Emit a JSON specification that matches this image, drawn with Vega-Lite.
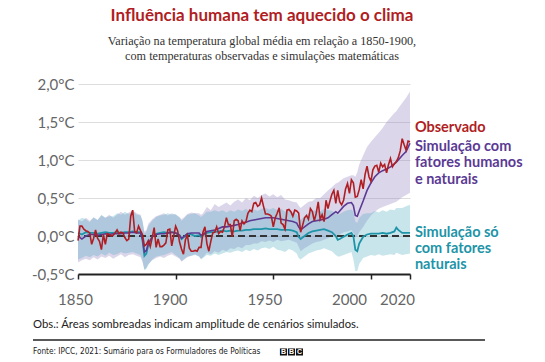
{
  "$schema": "https://vega.github.io/schema/vega-lite/v6.json",
  "width": 332,
  "height": 190,
  "autosize": {"type": "none"},
  "padding": {"left": 78, "top": 84, "right": 135, "bottom": 88},
  "background": "#ffffff",
  "config": {"view": {"stroke": null}, "axisY": {"labelOverlap": false}, "axis": {"labelOverlap": false}},
  "data": {"values": [{}]},
  "title": {
    "text": "Influência humana tem aquecido o clima",
    "subtitle": ["Variação na temperatura global média em relação a 1850-1900,", "com temperaturas observadas e simulações matemáticas"],
    "anchor": "middle",
    "frame": "group",
    "dx": 18,
    "offset": 14,
    "font": "Lato",
    "fontSize": 17,
    "fontWeight": "bold",
    "color": "#b01e23",
    "subtitleFont": "Liberation Serif",
    "subtitleFontSize": 12.2,
    "subtitleColor": "#333333",
    "subtitleLineHeight": 14.5,
    "subtitlePadding": 10
  },
  "datasets": {
    "obs": [
      {"year":1850,"t":-0.06},{"year":1851,"t":0.13},{"year":1852,"t":0.13},{"year":1853,"t":0.09},{"year":1854,"t":0.07},{"year":1855,"t":0.06},{"year":1856,"t":0.04},{"year":1857,"t":-0.11},{"year":1858,"t":-0.03},{"year":1859,"t":0.08},
      {"year":1860,"t":-0.03},{"year":1861,"t":-0.07},{"year":1862,"t":-0.18},{"year":1863,"t":0.02},{"year":1864,"t":-0.11},{"year":1865,"t":0.03},{"year":1866,"t":0.02},{"year":1867,"t":0.0},{"year":1868,"t":0.01},{"year":1869,"t":0.04},
      {"year":1870,"t":0.08},{"year":1871,"t":0.03},{"year":1872,"t":0.05},{"year":1873,"t":0.04},{"year":1874,"t":-0.02},{"year":1875,"t":-0.06},{"year":1876,"t":-0.04},{"year":1877,"t":0.26},{"year":1878,"t":0.34},{"year":1879,"t":0.06},
      {"year":1880,"t":0.04},{"year":1881,"t":0.13},{"year":1882,"t":0.07},{"year":1883,"t":0.02},{"year":1884,"t":-0.13},{"year":1885,"t":-0.11},{"year":1886,"t":-0.06},{"year":1887,"t":-0.14},{"year":1888,"t":-0.02},{"year":1889,"t":0.11},
      {"year":1890,"t":-0.15},{"year":1891,"t":-0.04},{"year":1892,"t":-0.14},{"year":1893,"t":-0.14},{"year":1894,"t":-0.12},{"year":1895,"t":-0.09},{"year":1896,"t":0.08},{"year":1897,"t":0.09},{"year":1898,"t":-0.13},{"year":1899,"t":0.0},
      {"year":1900,"t":0.13},{"year":1901,"t":0.07},{"year":1902,"t":-0.08},{"year":1903,"t":-0.17},{"year":1904,"t":-0.24},{"year":1905,"t":-0.05},{"year":1906,"t":0.01},{"year":1907,"t":-0.16},{"year":1908,"t":-0.2},{"year":1909,"t":-0.2},
      {"year":1910,"t":-0.19},{"year":1911,"t":-0.2},{"year":1912,"t":-0.15},{"year":1913,"t":-0.15},{"year":1914,"t":0.05},{"year":1915,"t":0.12},{"year":1916,"t":-0.1},{"year":1917,"t":-0.2},{"year":1918,"t":-0.07},{"year":1919,"t":0.04},
      {"year":1920,"t":0.05},{"year":1921,"t":0.12},{"year":1922,"t":0.03},{"year":1923,"t":0.06},{"year":1924,"t":0.05},{"year":1925,"t":0.12},{"year":1926,"t":0.24},{"year":1927,"t":0.15},{"year":1928,"t":0.15},{"year":1929,"t":-0.01},
      {"year":1930,"t":0.2},{"year":1931,"t":0.22},{"year":1932,"t":0.2},{"year":1933,"t":0.07},{"year":1934,"t":0.2},{"year":1935,"t":0.16},{"year":1936,"t":0.19},{"year":1937,"t":0.3},{"year":1938,"t":0.34},{"year":1939,"t":0.32},
      {"year":1940,"t":0.43},{"year":1941,"t":0.44},{"year":1942,"t":0.39},{"year":1943,"t":0.41},{"year":1944,"t":0.5},{"year":1945,"t":0.39},{"year":1946,"t":0.29},{"year":1947,"t":0.29},{"year":1948,"t":0.28},{"year":1949,"t":0.26},
      {"year":1950,"t":0.12},{"year":1951,"t":0.24},{"year":1952,"t":0.3},{"year":1953,"t":0.37},{"year":1954,"t":0.17},{"year":1955,"t":0.15},{"year":1956,"t":0.09},{"year":1957,"t":0.34},{"year":1958,"t":0.35},{"year":1959,"t":0.32},
      {"year":1960,"t":0.26},{"year":1961,"t":0.34},{"year":1962,"t":0.33},{"year":1963,"t":0.3},{"year":1964,"t":0.05},{"year":1965,"t":0.14},{"year":1966,"t":0.24},{"year":1967,"t":0.27},{"year":1968,"t":0.22},{"year":1969,"t":0.36},
      {"year":1970,"t":0.32},{"year":1971,"t":0.2},{"year":1972,"t":0.3},{"year":1973,"t":0.45},{"year":1974,"t":0.22},{"year":1975,"t":0.28},{"year":1976,"t":0.19},{"year":1977,"t":0.47},{"year":1978,"t":0.36},{"year":1979,"t":0.46},
      {"year":1980,"t":0.55},{"year":1981,"t":0.6},{"year":1982,"t":0.43},{"year":1983,"t":0.6},{"year":1984,"t":0.45},{"year":1985,"t":0.41},{"year":1986,"t":0.47},{"year":1987,"t":0.62},{"year":1988,"t":0.69},{"year":1989,"t":0.56},
      {"year":1990,"t":0.74},{"year":1991,"t":0.7},{"year":1992,"t":0.51},{"year":1993,"t":0.52},{"year":1994,"t":0.61},{"year":1995,"t":0.74},{"year":1996,"t":0.62},{"year":1997,"t":0.81},{"year":1998,"t":0.92},{"year":1999,"t":0.78},
      {"year":2000,"t":0.72},{"year":2001,"t":0.87},{"year":2002,"t":0.92},{"year":2003,"t":0.93},{"year":2004,"t":0.84},{"year":2005,"t":0.96},{"year":2006,"t":0.91},{"year":2007,"t":0.94},{"year":2008,"t":0.83},{"year":2009,"t":0.94},
      {"year":2010,"t":1.02},{"year":2011,"t":0.91},{"year":2012,"t":0.95},{"year":2013,"t":0.98},{"year":2014,"t":1.03},{"year":2015,"t":1.12},{"year":2016,"t":1.28},{"year":2017,"t":1.2},{"year":2018,"t":1.13},{"year":2019,"t":1.25},
      {"year":2020,"t":1.24}
    ],
    "sim": [
      {"year":1850,"hn":0.0,"hnl":-0.35,"hnh":0.22,"n":0.04,"nl":-0.31,"nh":0.2},
      {"year":1852,"hn":-0.04,"hnl":-0.32,"hnh":0.19,"n":0.02,"nl":-0.29,"nh":0.24},
      {"year":1854,"hn":0.0,"hnl":-0.3,"hnh":0.24,"n":0.05,"nl":-0.26,"nh":0.22},
      {"year":1856,"hn":0.02,"hnl":-0.32,"hnh":0.2,"n":0.04,"nl":-0.28,"nh":0.18},
      {"year":1858,"hn":0.02,"hnl":-0.28,"hnh":0.24,"n":0.04,"nl":-0.25,"nh":0.25},
      {"year":1860,"hn":0.01,"hnl":-0.31,"hnh":0.21,"n":0.03,"nl":-0.27,"nh":0.21},
      {"year":1862,"hn":0.02,"hnl":-0.27,"hnh":0.27,"n":0.04,"nl":-0.23,"nh":0.28},
      {"year":1864,"hn":0.03,"hnl":-0.29,"hnh":0.24,"n":0.05,"nl":-0.26,"nh":0.24},
      {"year":1866,"hn":0.02,"hnl":-0.26,"hnh":0.28,"n":0.04,"nl":-0.22,"nh":0.26},
      {"year":1868,"hn":0.03,"hnl":-0.3,"hnh":0.24,"n":0.04,"nl":-0.25,"nh":0.26},
      {"year":1870,"hn":0.03,"hnl":-0.27,"hnh":0.28,"n":0.05,"nl":-0.24,"nh":0.3},
      {"year":1872,"hn":0.03,"hnl":-0.24,"hnh":0.32,"n":0.04,"nl":-0.21,"nh":0.28},
      {"year":1874,"hn":0.04,"hnl":-0.28,"hnh":0.28,"n":0.05,"nl":-0.23,"nh":0.32},
      {"year":1876,"hn":0.04,"hnl":-0.25,"hnh":0.31,"n":0.05,"nl":-0.22,"nh":0.29},
      {"year":1878,"hn":0.05,"hnl":-0.24,"hnh":0.34,"n":0.06,"nl":-0.21,"nh":0.33},
      {"year":1880,"hn":0.04,"hnl":-0.26,"hnh":0.3,"n":0.05,"nl":-0.23,"nh":0.28},
      {"year":1882,"hn":0.04,"hnl":-0.28,"hnh":0.28,"n":0.05,"nl":-0.25,"nh":0.27},
      {"year":1883,"hn":-0.04,"hnl":-0.34,"hnh":0.2,"n":-0.05,"nl":-0.32,"nh":0.2},
      {"year":1884,"hn":-0.21,"hnl":-0.44,"hnh":0.06,"n":-0.26,"nl":-0.45,"nh":0.03},
      {"year":1885,"hn":-0.19,"hnl":-0.42,"hnh":0.08,"n":-0.23,"nl":-0.43,"nh":0.06},
      {"year":1886,"hn":-0.1,"hnl":-0.37,"hnh":0.16,"n":-0.12,"nl":-0.38,"nh":0.13},
      {"year":1888,"hn":-0.01,"hnl":-0.32,"hnh":0.22,"n":-0.01,"nl":-0.31,"nh":0.2},
      {"year":1890,"hn":0.02,"hnl":-0.29,"hnh":0.26,"n":0.03,"nl":-0.27,"nh":0.25},
      {"year":1892,"hn":0.03,"hnl":-0.27,"hnh":0.28,"n":0.04,"nl":-0.26,"nh":0.27},
      {"year":1894,"hn":0.03,"hnl":-0.29,"hnh":0.3,"n":0.05,"nl":-0.25,"nh":0.28},
      {"year":1896,"hn":0.04,"hnl":-0.26,"hnh":0.27,"n":0.04,"nl":-0.23,"nh":0.3},
      {"year":1898,"hn":0.05,"hnl":-0.24,"hnh":0.3,"n":0.05,"nl":-0.21,"nh":0.28},
      {"year":1900,"hn":0.04,"hnl":-0.27,"hnh":0.28,"n":0.04,"nl":-0.25,"nh":0.29},
      {"year":1902,"hn":0.01,"hnl":-0.3,"hnh":0.25,"n":0.01,"nl":-0.29,"nh":0.24},
      {"year":1903,"hn":-0.03,"hnl":-0.34,"hnh":0.22,"n":-0.04,"nl":-0.33,"nh":0.2},
      {"year":1904,"hn":-0.01,"hnl":-0.32,"hnh":0.24,"n":-0.02,"nl":-0.31,"nh":0.22},
      {"year":1906,"hn":0.03,"hnl":-0.28,"hnh":0.29,"n":0.03,"nl":-0.27,"nh":0.28},
      {"year":1908,"hn":0.04,"hnl":-0.26,"hnh":0.31,"n":0.02,"nl":-0.26,"nh":0.29},
      {"year":1910,"hn":0.04,"hnl":-0.24,"hnh":0.3,"n":0.0,"nl":-0.25,"nh":0.3},
      {"year":1912,"hn":0.04,"hnl":-0.27,"hnh":0.3,"n":0.01,"nl":-0.27,"nh":0.27},
      {"year":1913,"hn":0.01,"hnl":-0.3,"hnh":0.28,"n":-0.01,"nl":-0.31,"nh":0.25},
      {"year":1914,"hn":0.02,"hnl":-0.28,"hnh":0.3,"n":0.01,"nl":-0.29,"nh":0.27},
      {"year":1916,"hn":0.06,"hnl":-0.22,"hnh":0.38,"n":0.04,"nl":-0.25,"nh":0.32},
      {"year":1918,"hn":0.07,"hnl":-0.24,"hnh":0.34,"n":0.05,"nl":-0.26,"nh":0.32},
      {"year":1920,"hn":0.08,"hnl":-0.2,"hnh":0.42,"n":0.05,"nl":-0.23,"nh":0.34},
      {"year":1922,"hn":0.1,"hnl":-0.22,"hnh":0.38,"n":0.06,"nl":-0.25,"nh":0.32},
      {"year":1924,"hn":0.12,"hnl":-0.18,"hnh":0.41,"n":0.07,"nl":-0.23,"nh":0.34},
      {"year":1926,"hn":0.12,"hnl":-0.2,"hnh":0.44,"n":0.06,"nl":-0.21,"nh":0.31},
      {"year":1928,"hn":0.13,"hnl":-0.16,"hnh":0.4,"n":0.07,"nl":-0.22,"nh":0.34},
      {"year":1930,"hn":0.14,"hnl":-0.17,"hnh":0.45,"n":0.06,"nl":-0.2,"nh":0.32},
      {"year":1932,"hn":0.15,"hnl":-0.14,"hnh":0.48,"n":0.07,"nl":-0.19,"nh":0.35},
      {"year":1934,"hn":0.17,"hnl":-0.16,"hnh":0.44,"n":0.07,"nl":-0.21,"nh":0.33},
      {"year":1936,"hn":0.18,"hnl":-0.12,"hnh":0.5,"n":0.08,"nl":-0.18,"nh":0.36},
      {"year":1938,"hn":0.2,"hnl":-0.12,"hnh":0.47,"n":0.08,"nl":-0.2,"nh":0.32},
      {"year":1940,"hn":0.21,"hnl":-0.1,"hnh":0.53,"n":0.09,"nl":-0.17,"nh":0.35},
      {"year":1942,"hn":0.22,"hnl":-0.1,"hnh":0.5,"n":0.09,"nl":-0.19,"nh":0.33},
      {"year":1944,"hn":0.23,"hnl":-0.07,"hnh":0.54,"n":0.09,"nl":-0.16,"nh":0.36},
      {"year":1946,"hn":0.24,"hnl":-0.08,"hnh":0.56,"n":0.1,"nl":-0.15,"nh":0.37},
      {"year":1948,"hn":0.24,"hnl":-0.06,"hnh":0.52,"n":0.09,"nl":-0.17,"nh":0.35},
      {"year":1950,"hn":0.24,"hnl":-0.08,"hnh":0.55,"n":0.09,"nl":-0.14,"nh":0.37},
      {"year":1952,"hn":0.23,"hnl":-0.05,"hnh":0.51,"n":0.09,"nl":-0.18,"nh":0.34},
      {"year":1954,"hn":0.22,"hnl":-0.07,"hnh":0.54,"n":0.08,"nl":-0.19,"nh":0.36},
      {"year":1956,"hn":0.21,"hnl":-0.06,"hnh":0.48,"n":0.08,"nl":-0.21,"nh":0.32},
      {"year":1958,"hn":0.2,"hnl":-0.05,"hnh":0.47,"n":0.08,"nl":-0.17,"nh":0.35},
      {"year":1960,"hn":0.19,"hnl":-0.07,"hnh":0.45,"n":0.07,"nl":-0.19,"nh":0.31},
      {"year":1962,"hn":0.17,"hnl":-0.09,"hnh":0.44,"n":0.05,"nl":-0.23,"nh":0.29},
      {"year":1963,"hn":0.12,"hnl":-0.14,"hnh":0.4,"n":-0.01,"nl":-0.29,"nh":0.24},
      {"year":1964,"hn":0.08,"hnl":-0.2,"hnh":0.37,"n":-0.04,"nl":-0.31,"nh":0.21},
      {"year":1966,"hn":0.12,"hnl":-0.16,"hnh":0.41,"n":0.0,"nl":-0.27,"nh":0.26},
      {"year":1968,"hn":0.16,"hnl":-0.13,"hnh":0.45,"n":0.04,"nl":-0.23,"nh":0.3},
      {"year":1970,"hn":0.19,"hnl":-0.1,"hnh":0.46,"n":0.06,"nl":-0.21,"nh":0.33},
      {"year":1972,"hn":0.2,"hnl":-0.08,"hnh":0.5,"n":0.07,"nl":-0.19,"nh":0.34},
      {"year":1974,"hn":0.21,"hnl":-0.07,"hnh":0.5,"n":0.08,"nl":-0.18,"nh":0.32},
      {"year":1976,"hn":0.22,"hnl":-0.05,"hnh":0.55,"n":0.09,"nl":-0.16,"nh":0.36},
      {"year":1978,"hn":0.24,"hnl":-0.03,"hnh":0.6,"n":0.07,"nl":-0.18,"nh":0.34},
      {"year":1980,"hn":0.28,"hnl":0.0,"hnh":0.64,"n":0.05,"nl":-0.2,"nh":0.33},
      {"year":1982,"hn":0.32,"hnl":0.02,"hnh":0.69,"n":0.0,"nl":-0.25,"nh":0.3},
      {"year":1983,"hn":0.3,"hnl":0.0,"hnh":0.7,"n":-0.05,"nl":-0.27,"nh":0.28},
      {"year":1984,"hn":0.33,"hnl":0.02,"hnh":0.72,"n":-0.04,"nl":-0.27,"nh":0.29},
      {"year":1986,"hn":0.39,"hnl":0.05,"hnh":0.76,"n":-0.01,"nl":-0.25,"nh":0.32},
      {"year":1988,"hn":0.43,"hnl":0.06,"hnh":0.78,"n":0.02,"nl":-0.23,"nh":0.34},
      {"year":1990,"hn":0.44,"hnl":0.08,"hnh":0.8,"n":0.04,"nl":-0.21,"nh":0.35},
      {"year":1991,"hn":0.4,"hnl":0.04,"hnh":0.8,"n":0.0,"nl":-0.31,"nh":0.32},
      {"year":1992,"hn":0.27,"hnl":-0.02,"hnh":0.78,"n":-0.18,"nl":-0.46,"nh":0.19},
      {"year":1993,"hn":0.26,"hnl":0.0,"hnh":0.84,"n":-0.2,"nl":-0.46,"nh":0.17},
      {"year":1994,"hn":0.33,"hnl":0.05,"hnh":0.94,"n":-0.1,"nl":-0.37,"nh":0.24},
      {"year":1996,"hn":0.46,"hnl":0.12,"hnh":1.06,"n":-0.01,"nl":-0.29,"nh":0.29},
      {"year":1998,"hn":0.6,"hnl":0.2,"hnh":1.17,"n":0.02,"nl":-0.27,"nh":0.3},
      {"year":2000,"hn":0.7,"hnl":0.27,"hnh":1.24,"n":0.03,"nl":-0.25,"nh":0.3},
      {"year":2002,"hn":0.78,"hnl":0.32,"hnh":1.3,"n":0.03,"nl":-0.26,"nh":0.33},
      {"year":2004,"hn":0.83,"hnl":0.36,"hnh":1.36,"n":0.03,"nl":-0.24,"nh":0.31},
      {"year":2006,"hn":0.86,"hnl":0.38,"hnh":1.42,"n":0.04,"nl":-0.26,"nh":0.34},
      {"year":2008,"hn":0.88,"hnl":0.4,"hnh":1.5,"n":0.03,"nl":-0.25,"nh":0.32},
      {"year":2010,"hn":0.91,"hnl":0.42,"hnh":1.56,"n":0.04,"nl":-0.24,"nh":0.35},
      {"year":2012,"hn":0.95,"hnl":0.44,"hnh":1.62,"n":0.06,"nl":-0.25,"nh":0.34},
      {"year":2013,"hn":0.97,"hnl":0.45,"hnh":1.64,"n":0.11,"nl":-0.22,"nh":0.37},
      {"year":2014,"hn":1.0,"hnl":0.47,"hnh":1.68,"n":0.08,"nl":-0.23,"nh":0.37},
      {"year":2016,"hn":1.06,"hnl":0.51,"hnh":1.75,"n":0.04,"nl":-0.25,"nh":0.37},
      {"year":2018,"hn":1.11,"hnl":0.54,"hnh":1.82,"n":0.04,"nl":-0.24,"nh":0.39},
      {"year":2020,"hn":1.22,"hnl":0.57,"hnh":1.9,"n":0.04,"nl":-0.23,"nh":0.41}
    ]
  },
  "layer": [
    {
      "data": {"name": "sim"},
      "mark": {"type": "area", "color": "#8f7fbf", "opacity": 0.32},
      "encoding": {
        "x": {
          "field": "year", "type": "quantitative",
          "scale": {"domain": [1850, 2020], "nice": false, "zero": false},
          "axis": {
            "values": [1850, 1900, 1950, 2000, 2020],
            "format": "d",
            "title": null,
            "grid": false,
            "domainColor": "#222222",
            "domainWidth": 2,
            "tickColor": "#222222",
            "tickWidth": 1.5,
            "tickSize": 5,
            "labelPadding": 13,
            "labelFont": "Lato",
            "labelFontSize": 15,
            "labelColor": "#666666",
            "labelFlush": false,
            "labelOverlap": false,
            "labelOffset": {"condition": [
              {"test": "datum.value == 1850", "value": -3},
              {"test": "datum.value == 1900", "value": -6},
              {"test": "datum.value == 1950", "value": -9},
              {"test": "datum.value == 2000", "value": -22}
            ], "value": -13}
          }
        },
        "y": {
          "field": "hnl", "type": "quantitative",
          "scale": {"domain": [-0.5, 2.0], "nice": false, "zero": false},
          "axis": {
            "tickCount": 5,
            "title": null,
            "domain": false,
            "ticks": false,
            "grid": true,
            "gridColor": "#dddddd",
            "gridWidth": 1,
            "labelPadding": 4,
            "labelFont": "Lato",
            "labelFontSize": 15,
            "labelColor": "#666666",
            "labelOverlap": false,
            "labelExpr": "(datum.value < 0 ? '-' : '') + replace(format(abs(datum.value), '.1f'), '.', ',') + '°C'"
          }
        },
        "y2": {"field": "hnh"}
      }
    },
    {
      "data": {"name": "sim"},
      "mark": {"type": "area", "color": "#4aa8c0", "opacity": 0.3},
      "encoding": {
        "x": {"field": "year", "type": "quantitative"},
        "y": {"field": "nl", "type": "quantitative"},
        "y2": {"field": "nh"}
      }
    },
    {
      "mark": {"type": "rule", "color": "#333333", "strokeWidth": 2, "strokeDash": [7, 4]},
      "encoding": {"y": {"datum": 0}}
    },
    {
      "data": {"name": "sim"},
      "mark": {"type": "line", "color": "#1e94a8", "strokeWidth": 1.8},
      "encoding": {
        "x": {"field": "year", "type": "quantitative"},
        "y": {"field": "n", "type": "quantitative"}
      }
    },
    {
      "data": {"name": "sim"},
      "mark": {"type": "line", "color": "#5b3a94", "strokeWidth": 1.6},
      "encoding": {
        "x": {"field": "year", "type": "quantitative"},
        "y": {"field": "hn", "type": "quantitative"}
      }
    },
    {
      "data": {"name": "obs"},
      "mark": {"type": "line", "color": "#b01e23", "strokeWidth": 1.6},
      "encoding": {
        "x": {"field": "year", "type": "quantitative"},
        "y": {"field": "t", "type": "quantitative"}
      }
    },
    {
      "mark": {"type": "text", "text": "Observado", "align": "left", "baseline": "middle", "font": "Lato", "fontSize": 14.5, "fontWeight": "bold", "color": "#b01e23"},
      "encoding": {"x": {"datum": 2022.5}, "y": {"datum": 1.425}}
    },
    {
      "mark": {"type": "text", "text": ["Simulação com", "fatores humanos", "e naturais"], "lineHeight": 16.5, "align": "left", "baseline": "middle", "font": "Lato", "fontSize": 14.5, "fontWeight": "bold", "color": "#5b3a94"},
      "encoding": {"x": {"datum": 2022.5}, "y": {"datum": 1.175}}
    },
    {
      "mark": {"type": "text", "text": ["Simulação só", "com fatores", "naturais"], "lineHeight": 16, "align": "left", "baseline": "middle", "font": "Lato", "fontSize": 14.5, "fontWeight": "bold", "color": "#1e94a8"},
      "encoding": {"x": {"datum": 2022.5}, "y": {"datum": 0.036}}
    },
    {
      "mark": {"type": "text", "text": "Obs.: Áreas sombreadas indicam amplitude de cenários simulados.", "align": "left", "baseline": "middle", "font": "Lato", "fontSize": 11.3, "color": "#222222"},
      "encoding": {"x": {"datum": 1826.96}, "y": {"datum": -1.171}}
    },
    {
      "mark": {"type": "rule", "color": "#222222", "strokeWidth": 1.5},
      "encoding": {"x": {"datum": 1826.96}, "x2": {"datum": 2058.4}, "y": {"datum": -1.368}}
    },
    {
      "mark": {"type": "text", "text": "Fonte: IPCC, 2021: Sumário para os Formuladores de Políticas", "align": "left", "baseline": "middle", "font": "Liberation Sans Narrow, DejaVu Sans Condensed, sans-serif", "fontSize": 8.2, "color": "#222222"},
      "encoding": {"x": {"datum": 1826.96}, "y": {"datum": -1.526}}
    },
    {
      "layer": [
        {"mark": {"type": "square", "size": 50, "color": "#111111", "opacity": 1, "filled": true}, "encoding": {}},
        {"mark": {"type": "text", "text": "B", "font": "Liberation Sans", "fontWeight": "bold", "fontSize": 7, "color": "#ffffff", "align": "center", "baseline": "middle"}, "encoding": {}}
      ],
      "encoding": {"x": {"datum": 1955.2}, "y": {"datum": -1.526}}
    },
    {
      "layer": [
        {"mark": {"type": "square", "size": 50, "color": "#111111", "opacity": 1, "filled": true}, "encoding": {}},
        {"mark": {"type": "text", "text": "B", "font": "Liberation Sans", "fontWeight": "bold", "fontSize": 7, "color": "#ffffff", "align": "center", "baseline": "middle"}, "encoding": {}}
      ],
      "encoding": {"x": {"datum": 1959.3}, "y": {"datum": -1.526}}
    },
    {
      "layer": [
        {"mark": {"type": "square", "size": 50, "color": "#111111", "opacity": 1, "filled": true}, "encoding": {}},
        {"mark": {"type": "text", "text": "C", "font": "Liberation Sans", "fontWeight": "bold", "fontSize": 7, "color": "#ffffff", "align": "center", "baseline": "middle"}, "encoding": {}}
      ],
      "encoding": {"x": {"datum": 1963.4}, "y": {"datum": -1.526}}
    }
  ]
}
